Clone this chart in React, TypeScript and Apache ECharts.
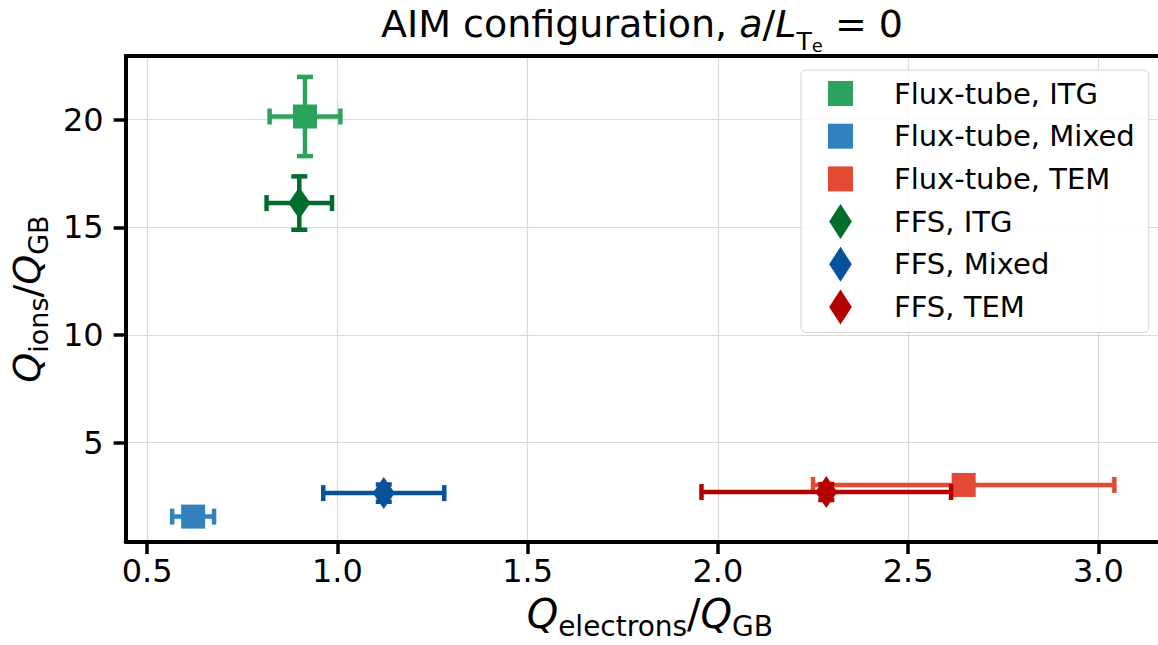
import React, { useEffect, useRef } from 'react';
import * as echarts from 'echarts';

const seriesNames = ['Flux-tube, ITG', 'Flux-tube, Mixed', 'Flux-tube, TEM', 'FFS, ITG', 'FFS, Mixed', 'FFS, TEM'];
const seriesColors = ['#2ca25f', '#3182bd', '#e34a33', '#006d2c', '#08519c', '#b30000'];
const markerKinds = ['square', 'square', 'square', 'diamond', 'diamond', 'diamond'];
const electronFlux = [0.915, 0.621, 2.646, 0.9, 1.122, 2.285];
const ionFlux = [20.15, 1.57, 3.04, 16.13, 2.66, 2.71];
const electronFluxErr = [0.093, 0.055, 0.396, 0.086, 0.159, 0.328];
const ionFluxErr = [1.84, 0.3, 0.3, 1.24, 0.4, 0.37];
const xTickValues = [0.5, 1.0, 1.5, 2.0, 2.5, 3.0];
const yTickValues = [5, 10, 15, 20];

const FONT = 'DejaVu Sans';
const squareIcon = 'path://M0,0L24,0L24,24L0,24Z';
const diamondIcon = 'path://M11,0L22,17L11,34L0,17Z';

export default function App() {
  const ref = useRef<HTMLDivElement>(null);
  useEffect(() => {
    document.body.style.margin = '0';
    document.body.style.overflow = 'hidden';
    const chart = echarts.init(ref.current as HTMLDivElement, null, { renderer: 'svg' });

    const errorSeries = seriesNames.map((name, i) => ({
      type: 'custom',
      name: name + ' error',
      silent: true,
      z: i < 3 ? 2 : 4,
      data: [[electronFlux[i], ionFlux[i], electronFluxErr[i], ionFluxErr[i]]],
      encode: { x: 0, y: 1 },
      renderItem: (params: any, api: any) => {
        const x = api.value(0);
        const y = api.value(1);
        const ex = api.value(2);
        const ey = api.value(3);
        const l = api.coord([x - ex, y]);
        const r = api.coord([x + ex, y]);
        const b = api.coord([x, y - ey]);
        const t = api.coord([x, y + ey]);
        const c = 8;
        const st = { stroke: seriesColors[i], lineWidth: 4.5 };
        const seg = (x1: number, y1: number, x2: number, y2: number) => ({
          type: 'line',
          shape: { x1, y1, x2, y2 },
          style: st,
        });
        return {
          type: 'group',
          children: [
            seg(l[0], l[1], r[0], r[1]),
            seg(b[0], b[1], t[0], t[1]),
            seg(l[0], l[1] - c, l[0], l[1] + c),
            seg(r[0], r[1] - c, r[0], r[1] + c),
            seg(t[0] - c, t[1], t[0] + c, t[1]),
            seg(b[0] - c, b[1], b[0] + c, b[1]),
          ],
        };
      },
    }));

    const markerSeries = seriesNames.map((name, i) => ({
      type: 'scatter',
      name,
      z: i < 3 ? 3 : 5,
      symbol: markerKinds[i] === 'square' ? 'rect' : 'diamond',
      symbolSize: markerKinds[i] === 'square' ? [24, 24] : [22, 32],
      itemStyle: { color: seriesColors[i], opacity: 1 },
      data: [[electronFlux[i], ionFlux[i]]],
    }));

    const option: any = {
      animation: false,
      backgroundColor: '#ffffff',
      title: {
        text: '{n|AIM configuration, }{i|a}{n|/}{i|L}{s|T}{ss|e}{n| = 0}',
        left: 642,
        textAlign: 'center',
        top: -6,
        padding: 0,
        textStyle: {
          fontWeight: 'normal',
          fontFamily: FONT,
          rich: {
            n: { fontFamily: FONT, fontSize: 38, fontWeight: 'normal', color: '#000', lineHeight: 60 },
            i: { fontFamily: FONT, fontSize: 38, fontWeight: 'normal', fontStyle: 'italic', color: '#000', lineHeight: 60 },
            s: { fontFamily: FONT, fontSize: 25, fontWeight: 'normal', color: '#000', lineHeight: 28, verticalAlign: 'bottom' },
            ss: { fontFamily: FONT, fontSize: 18, fontWeight: 'normal', color: '#000', lineHeight: 6, verticalAlign: 'bottom' },
          },
        },
      },
      legend: {
        orient: 'vertical',
        left: 801,
        top: 70,
        padding: [6, 14, 8, 27],
        itemGap: 7.7,
        itemWidth: 25,
        itemHeight: 35,
        symbolKeepAspect: true,
        selectedMode: false,
        backgroundColor: 'rgba(255,255,255,0.85)',
        borderColor: '#d4d4d4',
        borderWidth: 1,
        borderRadius: 5,
        textStyle: { fontFamily: FONT, fontSize: 29, color: '#000', lineHeight: 35, padding: [0, 0, 0, 36] },
        data: seriesNames.map((name, i) => ({
          name,
          icon: markerKinds[i] === 'square' ? squareIcon : diamondIcon,
        })),
      },
      grid: { left: 124, right: 0, top: 56, bottom: 96 },
      xAxis: [
        {
          type: 'value',
          position: 'bottom',
          min: 0.4436,
          max: 3.1567,
          axisLine: { show: true, onZero: false, lineStyle: { color: '#000', width: 4 } },
          axisTick: { show: true, inside: false, length: 12, customValues: xTickValues, lineStyle: { color: '#000', width: 3.5 } },
          axisLabel: {
            customValues: xTickValues,
            formatter: (v: number) => v.toFixed(1),
            fontFamily: FONT,
            fontSize: 32,
            color: '#000',
            margin: 13,
          },
          splitLine: { show: true, lineStyle: { color: '#d9d9d9', width: 1.2 } },
          name: '{q|Q}{s|electrons}{n|/}{q|Q}{s|GB}',
          nameLocation: 'middle',
          nameGap: 46,
          nameTextStyle: {
            padding: [0, 0, 0, 16],
            rich: {
              q: { fontFamily: FONT, fontSize: 40, fontStyle: 'italic', color: '#000', lineHeight: 52 },
              n: { fontFamily: FONT, fontSize: 40, color: '#000', lineHeight: 52 },
              s: { fontFamily: FONT, fontSize: 28, color: '#000', lineHeight: 28, verticalAlign: 'bottom' },
            },
          },
        },
        {
          type: 'value',
          position: 'top',
          min: 0.4436,
          max: 3.1567,
          axisLine: { show: true, onZero: false, lineStyle: { color: '#000', width: 4 } },
          axisTick: { show: false },
          axisLabel: { show: false },
          splitLine: { show: false },
        },
      ],
      yAxis: {
        type: 'value',
        min: 0.39,
        max: 22.96,
        axisLine: { show: true, onZero: false, lineStyle: { color: '#000', width: 4 } },
        axisTick: { show: true, inside: false, length: 12, customValues: yTickValues, lineStyle: { color: '#000', width: 3.5 } },
        axisLabel: {
          customValues: yTickValues,
          fontFamily: FONT,
          fontSize: 32,
          color: '#000',
          margin: 22,
        },
        splitLine: { show: true, lineStyle: { color: '#d9d9d9', width: 1.2 } },
        name: '{q|Q}{s|ions}{n|/}{q|Q}{s|GB}',
        nameLocation: 'middle',
        nameRotate: 90,
        nameGap: 61,
        nameTextStyle: {
          rich: {
            q: { fontFamily: FONT, fontSize: 38, fontStyle: 'italic', color: '#000', lineHeight: 50 },
            n: { fontFamily: FONT, fontSize: 38, color: '#000', lineHeight: 50 },
            s: { fontFamily: FONT, fontSize: 27, color: '#000', lineHeight: 28, verticalAlign: 'bottom' },
          },
        },
      },
      series: [
        ...errorSeries.slice(0, 3),
        ...markerSeries.slice(0, 3),
        ...errorSeries.slice(3),
        ...markerSeries.slice(3),
      ],
    };

    chart.setOption(option);
    return () => chart.dispose();
  }, []);

  return <div ref={ref} style={{ width: 1158, height: 645 }} />;
}
